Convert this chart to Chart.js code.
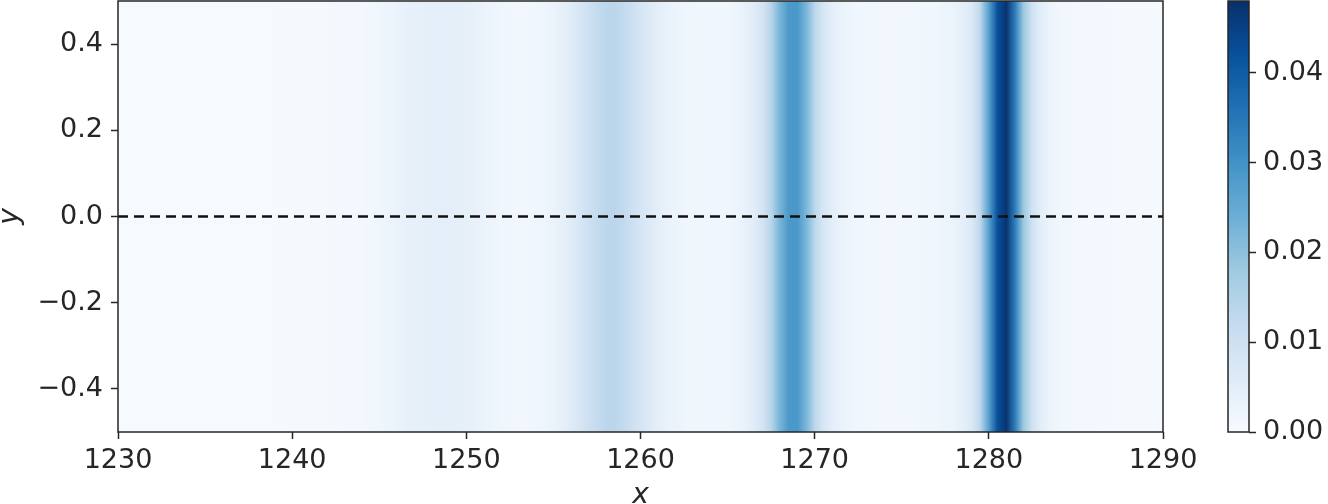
<!DOCTYPE html>
<html>
<head>
<meta charset="utf-8">
<script src="https://cdn.jsdelivr.net/npm/chart.js@4/dist/chart.umd.min.js"></script>
<style>
  body { margin: 0; background: #fff; }
  #wrap { position: relative; width: 1328px; height: 504px; overflow: hidden; }
  canvas { position: absolute; top: 0; }
</style>
</head>
<body>
<div id="wrap">
  <canvas id="heat" width="1328" height="504" style="left:0"></canvas>
  <canvas id="cbar" width="148" height="504" style="left:1180px"></canvas>
</div>
<script>
// intensity profile along x (the map does not change with y)
const xValues = [
  1230, 1232, 1234, 1236, 1238, 1239, 1240, 1241, 1242, 1243, 1244, 1244.5,
  1245, 1245.5, 1246, 1246.5, 1247, 1247.5, 1248, 1248.5, 1249, 1249.5,
  1250, 1250.5, 1251, 1251.5, 1252, 1252.5, 1253, 1253.5, 1254, 1254.5,
  1255, 1255.5, 1256, 1256.5, 1257, 1257.5, 1258, 1258.5, 1259, 1259.5,
  1260, 1260.5, 1261, 1261.5, 1262, 1262.5, 1263, 1264, 1265, 1265.5,
  1266, 1266.5, 1267, 1267.5, 1268, 1268.5, 1269, 1269.5, 1270, 1270.5,
  1271, 1271.5, 1272, 1272.5, 1273, 1274, 1275, 1276, 1276.5, 1277, 1277.5,
  1278, 1278.5, 1279, 1279.5, 1280, 1280.5, 1281, 1281.5, 1282, 1282.5,
  1283, 1283.5, 1284, 1284.5, 1285, 1286, 1287, 1288, 1289, 1290
]
const intensity = [
  0.0004, 0.0004, 0.0004, 0.0004, 0.0005, 0.0005, 0.0006, 0.0007, 0.0008, 0.0010, 0.0013, 0.0016,
  0.0020, 0.0025, 0.0031, 0.0036, 0.0040, 0.0043, 0.0045, 0.0046, 0.0046, 0.0045,
  0.0042, 0.0037, 0.0031, 0.0025, 0.0020, 0.0017, 0.0015, 0.0015, 0.0017, 0.0022,
  0.0029, 0.0041, 0.0058, 0.0078, 0.0100, 0.0121, 0.0135, 0.0136, 0.0124, 0.0104,
  0.0082, 0.0063, 0.0047, 0.0035, 0.0027, 0.0022, 0.0019, 0.0017, 0.0020, 0.0026,
  0.0036, 0.0055, 0.0085, 0.0140, 0.0225, 0.0285, 0.0288, 0.0225, 0.0135, 0.0078,
  0.0048, 0.0032, 0.0023, 0.0018, 0.0016, 0.0014, 0.0014, 0.0016, 0.0017, 0.0019, 0.0023,
  0.0030, 0.0045, 0.0065, 0.0130, 0.0270, 0.0420, 0.0475, 0.0340, 0.0180, 0.0095,
  0.0050, 0.0029, 0.0020, 0.0015, 0.0013, 0.0010, 0.0009, 0.0008, 0.0007, 0.0007
]
const yExtent = [-0.5, 0.5]
const guideY = 0

const xTicks = [1230, 1240, 1250, 1260, 1270, 1280, 1290]
const yTicks = [-0.4, -0.2, 0, 0.2, 0.4]
const colorTicks = [0, 0.01, 0.02, 0.03, 0.04]
const colorMax = 0.048

const blues = ['#f7fbff', '#deebf7', '#c6dbef', '#9ecae1', '#6baed6', '#4292c6', '#2171b5', '#08519c', '#08306b']
const ink = '#262626'
const font = {family: 'DejaVu Sans', size: 27}
const titleFont = {family: 'DejaVu Sans', size: 28, style: 'italic', lineHeight: 1}

function hexToRgb(h) {
  return [1, 3, 5].map(i => parseInt(h.slice(i, i + 2), 16))
}

function colorFor(v) {
  let t = Math.max(0, Math.min(1, v / colorMax)) * (blues.length - 1)
  const i = Math.min(Math.floor(t), blues.length - 2)
  const f = t - i
  const a = hexToRgb(blues[i])
  const b = hexToRgb(blues[i + 1])
  const c = a.map((x, k) => Math.round(x + (b[k] - x) * f))
  return `rgb(${c[0]},${c[1]},${c[2]})`
}

function heatGradient(ctx) {
  const chart = ctx.chart
  const area = chart.chartArea
  if (!area) return blues[0]
  const xs = chart.scales.x
  const g = chart.ctx.createLinearGradient(area.left, 0, area.right, 0)
  xValues.forEach((x, i) => {
    const p = (xs.getPixelForValue(x) - area.left) / (area.right - area.left)
    g.addColorStop(Math.max(0, Math.min(1, p)), colorFor(intensity[i]))
  })
  return g
}

function barGradient(ctx) {
  const chart = ctx.chart
  const area = chart.chartArea
  if (!area) return blues[0]
  const ys = chart.scales.y
  const g = chart.ctx.createLinearGradient(0, ys.getPixelForValue(0), 0, ys.getPixelForValue(colorMax))
  blues.forEach((c, i) => g.addColorStop(i / (blues.length - 1), c))
  return g
}

const frame = {
  id: 'frame',
  afterDraw(chart) {
    const {ctx, chartArea: a} = chart
    ctx.save()
    ctx.strokeStyle = ink
    ctx.lineWidth = 1.5
    ctx.strokeRect(a.left, a.top, a.right - a.left, a.bottom - a.top)
    ctx.restore()
  }
}

const fmt = (v, d) => {
  const s = Math.abs(v) < 1e-9 ? (0).toFixed(d) : v.toFixed(d)
  return s.replace('-', '\u2212')
}

const tickGrid = {
  display: true,
  drawOnChartArea: false,
  drawTicks: true,
  tickLength: 7,
  tickWidth: 1.5,
  tickColor: ink
}

// the frame is fixed by hand, so drop the label overflow padding
function fixVertical(width) {
  return s => {
    s.width = width
    s.paddingTop = 0
    s.paddingBottom = 0
  }
}

new Chart(document.getElementById('heat'), {
  type: 'line',
  data: {
    datasets: [
      {
        data: [{x: xTicks[0], y: guideY}, {x: xTicks[xTicks.length - 1], y: guideY}],
        borderColor: '#111',
        borderWidth: 2.5,
        borderDash: [10, 6],
        pointRadius: 0,
        fill: false,
        order: 1
      },
      {
        data: xValues.map(x => ({x: x, y: yExtent[1]})),
        borderWidth: 0,
        pointRadius: 0,
        fill: {value: yExtent[0]},
        backgroundColor: heatGradient,
        order: 2
      }
    ]
  },
  options: {
    responsive: false,
    animation: false,
    devicePixelRatio: 1,
    layout: {padding: {left: 0, top: 1, right: 165, bottom: 0}},
    plugins: {legend: {display: false}, tooltip: {enabled: false}},
    scales: {
      x: {
        type: 'linear',
        min: xTicks[0],
        max: xTicks[xTicks.length - 1],
        afterBuildTicks: s => { s.ticks = xTicks.map(v => ({value: v})) },
        afterFit: s => { s.height = 72 },
        grid: tickGrid,
        border: {display: false},
        ticks: {color: ink, font: font, padding: 6, maxRotation: 0, callback: v => String(v)},
        title: {display: true, text: 'x', color: ink, font: titleFont, padding: {top: 0, bottom: -6}}
      },
      y: {
        type: 'linear',
        min: yExtent[0],
        max: yExtent[1],
        afterBuildTicks: s => { s.ticks = yTicks.map(v => ({value: v})) },
        afterFit: fixVertical(118),
        grid: tickGrid,
        border: {display: false},
        ticks: {color: ink, font: font, padding: 8, callback: v => fmt(v, 1)},
        title: {display: true, text: 'y', color: ink, font: titleFont, padding: {top: -3, bottom: 0}}
      }
    }
  },
  plugins: [frame]
})

new Chart(document.getElementById('cbar'), {
  type: 'bar',
  data: {
    labels: ['scale'],
    datasets: [{
      data: [[0, colorMax]],
      backgroundColor: barGradient,
      borderWidth: 0,
      barPercentage: 1,
      categoryPercentage: 1
    }]
  },
  options: {
    responsive: false,
    animation: false,
    devicePixelRatio: 1,
    layout: {padding: {left: 48, top: 1, right: 0, bottom: 72}},
    plugins: {legend: {display: false}, tooltip: {enabled: false}},
    scales: {
      x: {display: false},
      y: {
        position: 'right',
        min: 0,
        max: colorMax,
        afterBuildTicks: s => { s.ticks = colorTicks.map(v => ({value: v})) },
        afterFit: fixVertical(79),
        grid: tickGrid,
        border: {display: false},
        ticks: {color: ink, font: font, padding: 7, callback: v => fmt(v, 2)}
      }
    }
  },
  plugins: [frame]
})
</script>
</body>
</html>
